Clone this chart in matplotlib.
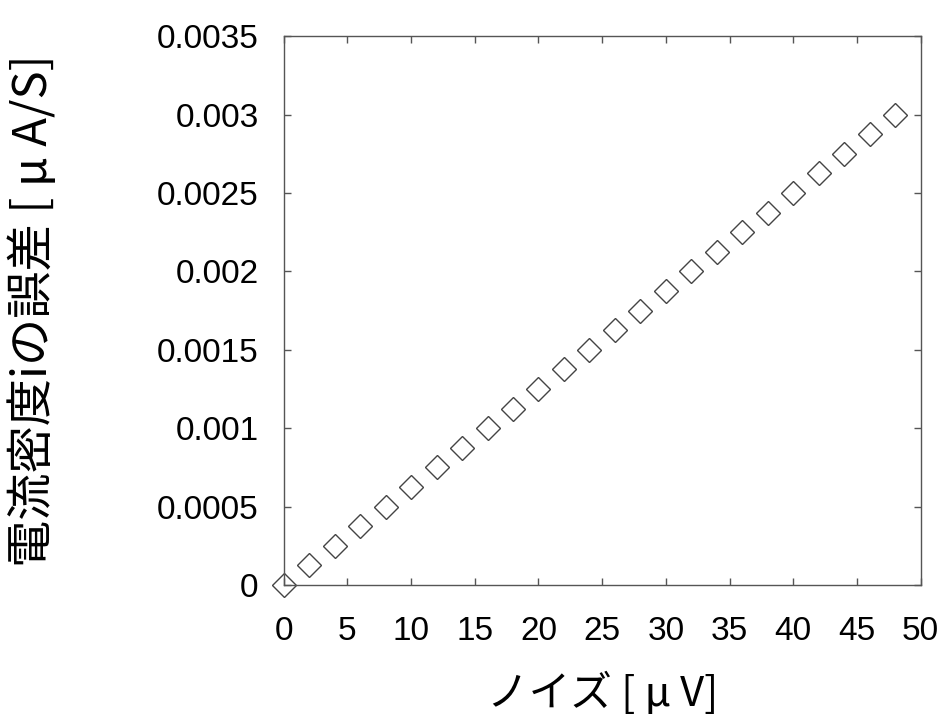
import matplotlib.pyplot as plt

# noise [uV] and the resulting current density error [uA/S]
noise = [0, 2, 4, 6, 8, 10, 12, 14, 16, 18, 20, 22, 24, 26, 28, 30,
         32, 34, 36, 38, 40, 42, 44, 46, 48]
error = [0.0, 0.000125, 0.00025, 0.000375, 0.0005, 0.000625, 0.00075,
         0.000875, 0.001, 0.001125, 0.00125, 0.001375, 0.0015, 0.001625,
         0.00175, 0.001875, 0.002, 0.002125, 0.00225, 0.002375, 0.0025,
         0.002625, 0.00275, 0.002875, 0.003]

xticks = [0, 5, 10, 15, 20, 25, 30, 35, 40, 45, 50]
yticks = [0, 0.0005, 0.001, 0.0015, 0.002, 0.0025, 0.003, 0.0035]
ytick_labels = ['0', '0.0005', '0.001', '0.0015', '0.002', '0.0025', '0.003', '0.0035']

plt.rcParams['font.family'] = ['Liberation Sans', 'Noto Sans CJK JP', 'DejaVu Sans']

fig = plt.figure(figsize=(9.52, 7.25), dpi=100)
ax = fig.add_axes([0.298, 0.193, 0.669, 0.757])

ax.plot(noise, error, linestyle='none', marker='D', markersize=12,
        markerfacecolor='none', markeredgecolor='#444444', markeredgewidth=1.0,
        clip_on=False)

ax.set_xlim(0, 50)
ax.set_ylim(0, 0.0035)
ax.set_xticks(xticks)
ax.set_yticks(yticks)
ax.set_yticklabels(ytick_labels)
ax.tick_params(direction='in', length=5, width=1, color='#555555',
               top=True, right=True, labelsize=24)
ax.tick_params(axis='x', pad=22)
ax.tick_params(axis='y', pad=18)
for s in ax.spines.values():
    s.set_color('#555555')
    s.set_linewidth(1)

jp = ['Noto Sans CJK JP', 'DejaVu Sans']
ax.set_xlabel('ノイズ [ μ V]', fontsize=30, family=jp, labelpad=18)
ax.set_ylabel('電流密度iの誤差 [ μ A/S]', fontsize=34, family=jp)
ax.yaxis.set_label_coords(-0.355, 0.5)

fig.savefig('out.png', dpi=100)
